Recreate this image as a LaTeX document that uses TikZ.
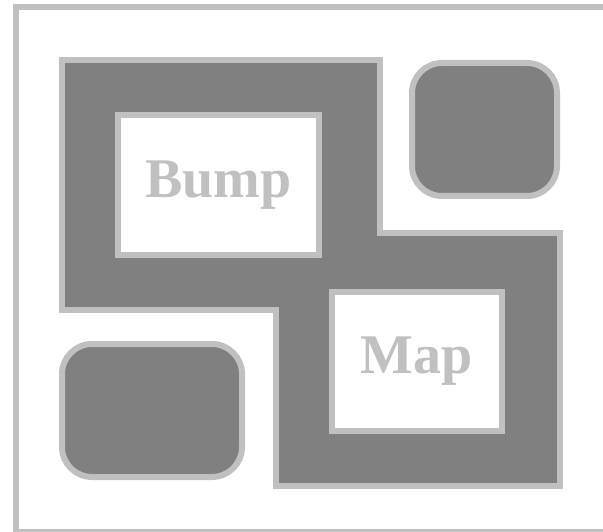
\documentclass[tikz,border=0pt]{standalone}
\usepackage{fontspec}
\setmainfont{Liberation Serif}
\usepackage{xcolor}
\usetikzlibrary{positioning}
\definecolor{fillgray}{HTML}{808080}
\definecolor{edgegray}{HTML}{C0C0C0}
\tikzset{
  edge/.style={draw=edgegray,line width=6pt},
  region/.style={edge,fill=fillgray},
  blob/.style={region,rounded corners=30pt,inner sep=0pt},
  label box/.style={edge,fill=white,inner sep=0pt,text=edgegray,
    font=\fontsize{56}{56}\selectfont\bfseries}
}
\begin{document}
\begin{tikzpicture}[x=1pt,y=-1pt]
\useasboundingbox (0,0) rectangle (603,532);
\clip (0,0) rectangle (603,532);
% outer frame
\draw[edge] (16,7) rectangle (612,532);

% main region
\draw[region] (62,60) -- (380,60) -- (380,233) -- (560,233) -- (560,486)
  -- (276,486) -- (276,310) -- (62,310) -- cycle;

% rounded blobs
\node[blob, minimum width=145pt, minimum height=133pt] (blobNE) at (484.5,129.5) {};
\node[blob, minimum width=180pt, minimum height=133pt] (blobSW) at (152,410.5) {};

% labelled boxes
\node[label box, minimum width=201pt, minimum height=140pt] (bump) at (218.5,185) {Bump};
\node[label box, minimum width=170.5pt, minimum height=139pt] (map) at (416.75,361.5) {Map};
\end{tikzpicture}
\end{document}
